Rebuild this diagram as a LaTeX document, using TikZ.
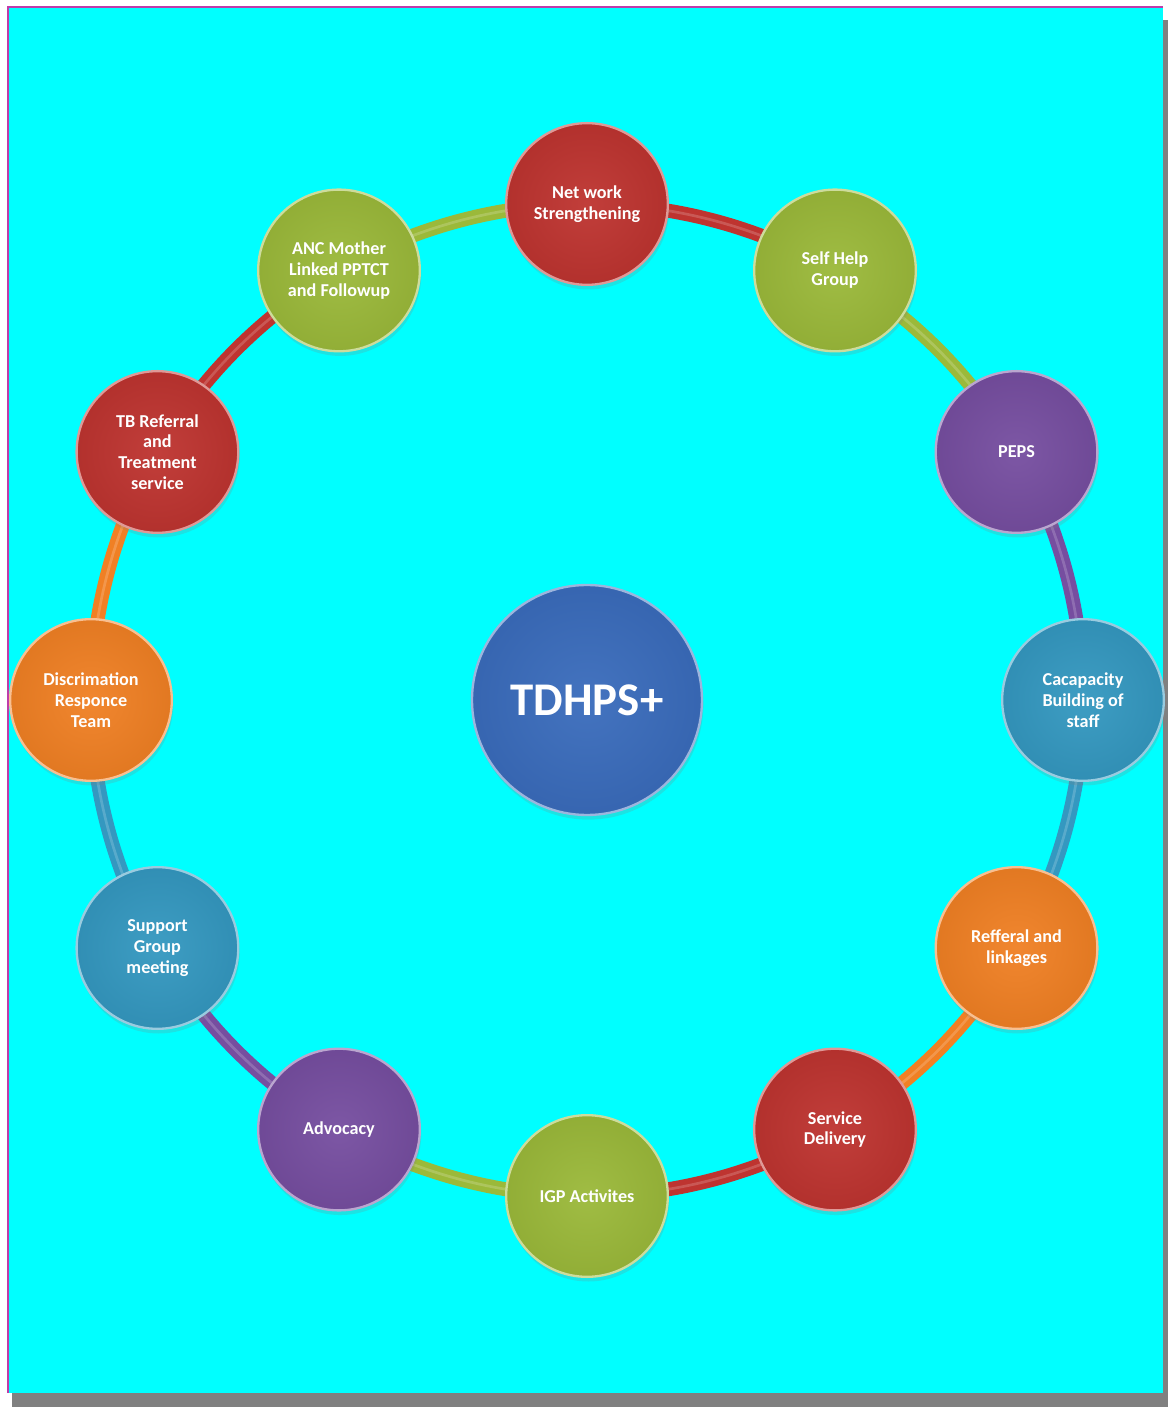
\documentclass[tikz,border=0pt]{standalone}
\usepackage{fontspec}
\setmainfont{Carlito}
\usetikzlibrary{shapes.geometric, calc, shadows, positioning}
\definecolor{bgcyan}{RGB}{0,255,255}
\definecolor{framepink}{RGB}{190,60,170}
\definecolor{netred}{RGB}{190,52,48}
\definecolor{netgreen}{RGB}{155,185,58}
\definecolor{netpurple}{RGB}{118,78,160}
\definecolor{netteal}{RGB}{52,152,192}
\definecolor{netorange}{RGB}{240,128,36}
\definecolor{hubblue}{RGB}{58,108,188}
\pgfdeclarelayer{background}
\pgfdeclarelayer{ring}
\pgfsetlayers{background,ring,main}

\begin{document}
\begin{tikzpicture}[auto, thick]
  % Define styles
  \tikzstyle{bubble} = [circle, minimum size=4.85cm, inner sep=0pt, align=center, text=white, font=\fontsize{15.5}{17.8}\selectfont\bfseries, shading=radial, inner color=#1!95!white, outer color=#1!94!black, draw=#1!50!white, line width=0.07cm, drop shadow={shadow xshift=0.04cm, shadow yshift=-0.14cm, opacity=0.22}]
  \tikzstyle{hub} = [bubble=hubblue, minimum size=6.9cm, font=\fontsize{40}{44}\selectfont\bfseries]
  \tikzstyle{ring} = [draw=#1, line width=0.42cm, line cap=round, postaction={draw=white, opacity=0.18, line width=0.08cm}]
  \tikzstyle{arc} = [bend left=15, looseness=0.866]

  % Frame
  \useasboundingbox (-17.61,21.0) rectangle (17.43,-21.21);
  \begin{pgfonlayer}{background}
    \fill[gray] (-17.25,20.4) rectangle (17.43,-21.21);
    \fill[bgcyan] (-17.37,20.79) rectangle (17.28,-20.79);
    \draw[framepink, line width=0.06cm] (-17.37,-20.79) -- (-17.37,20.79) -- (17.28,20.79);
  \end{pgfonlayer}

  % Place nodes
  \node [hub] (tdhps) at (0,0) {TDHPS+};
  \node [bubble=netred] (network) at (90:14.88) {Net work\\Strengthening};
  \node [bubble=netgreen] (selfhelp) at (60:14.88) {Self Help\\Group};
  \node [bubble=netpurple] (peps) at (30:14.88) {PEPS};
  \node [bubble=netteal] (capacity) at (0:14.88) {Cacapacity\\Building of\\staff};
  \node [bubble=netorange] (referral) at (-30:14.88) {Refferal and\\linkages};
  \node [bubble=netred] (service) at (-60:14.88) {Service\\Delivery};
  \node [bubble=netgreen] (igp) at (-90:14.88) {IGP Activites};
  \node [bubble=netpurple] (advocacy) at (-120:14.88) {Advocacy};
  \node [bubble=netteal] (support) at (-150:14.88) {Support\\Group\\meeting};
  \node [bubble=netorange] (discrim) at (180:14.88) {Discrimation\\Responce\\Team};
  \node [bubble=netred] (tbref) at (150:14.88) {TB Referral\\and\\Treatment\\service};
  \node [bubble=netgreen] (anc) at (120:14.88) {ANC Mother\\Linked PPTCT\\and Followup};

  % Draw edges
  \begin{pgfonlayer}{ring}
    \path [ring=netred] (network.center) to[arc] (selfhelp.center);
    \path [ring=netgreen] (selfhelp.center) to[arc] (peps.center);
    \path [ring=netpurple] (peps.center) to[arc] (capacity.center);
    \path [ring=netteal] (capacity.center) to[arc] (referral.center);
    \path [ring=netorange] (referral.center) to[arc] (service.center);
    \path [ring=netred] (service.center) to[arc] (igp.center);
    \path [ring=netgreen] (igp.center) to[arc] (advocacy.center);
    \path [ring=netpurple] (advocacy.center) to[arc] (support.center);
    \path [ring=netteal] (support.center) to[arc] (discrim.center);
    \path [ring=netorange] (discrim.center) to[arc] (tbref.center);
    \path [ring=netred] (tbref.center) to[arc] (anc.center);
    \path [ring=netgreen] (anc.center) to[arc] (network.center);
  \end{pgfonlayer}

\end{tikzpicture}
\end{document}
